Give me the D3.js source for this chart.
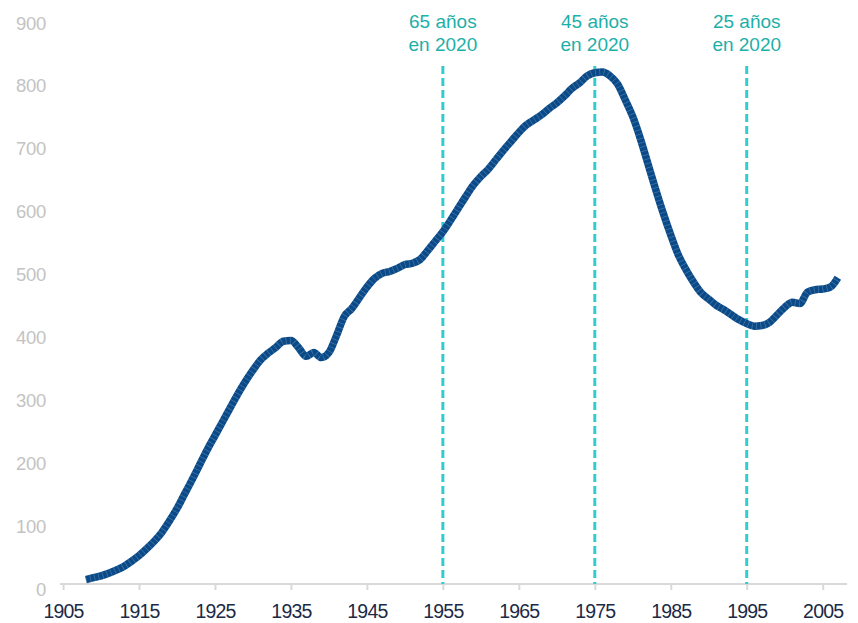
<!DOCTYPE html>
<html><head><meta charset="utf-8">
<script src="https://cdn.jsdelivr.net/npm/d3@7"></script>
<style>html,body{margin:0;padding:0;background:#fff;}svg{display:block;}</style>
</head><body>
<script>
const years = d3.range(1908, 2008);
const values = [7,10,13,17,22,28,36,45,56,68,
82,100,120,143,166,190,214,236,258,280,
302,322,340,356,367,376,386,387,376,362,
368,360,368,395,425,438,455,472,486,494,
497,502,508,510,516,530,545,560,578,597,
616,634,648,660,675,690,704,718,730,738,
746,756,765,776,788,797,808,813,814,808,
795,770,743,708,668,628,590,555,523,500,
480,463,453,443,436,428,420,414,410,411,
416,428,440,448,446,464,468,469,472,487];
const xTicks = [1905,1915,1925,1935,1945,1955,1965,1975,1985,1995,2005];
const yTicks = [0,100,200,300,400,500,600,700,800,900];
const markerYears = [1955,1975,1995];
const markerLabels = [["65 años","en 2020"],["45 años","en 2020"],["25 años","en 2020"]];

const W = 858, H = 623;
const svg = d3.select("body").append("svg").attr("width", W).attr("height", H);
const x = d3.scaleLinear().domain([1904.6, 2008.2]).range([60, 847]);
const y = d3.scaleLinear().domain([0, 900]).range([584, 18]);

// y labels
svg.append("g").selectAll("text").data(yTicks).join("text")
  .attr("x", 46).attr("y", d => y(d) + 11.5)
  .attr("text-anchor", "end")
  .attr("font-family", "Liberation Sans, Arial, sans-serif")
  .attr("font-size", 18.5).attr("fill", "#c3c3c3")
  .attr("letter-spacing", "-0.3")
  .text(d => d);

// x axis
const xAxis = d3.axisBottom(x).tickValues(xTicks).tickSize(6).tickFormat(d3.format("d"));
const gx = svg.append("g").attr("transform", "translate(0,584)").call(xAxis);
gx.select(".domain").attr("stroke", "#d9d9d9").attr("stroke-width", 2).attr("d", "M60,0H847");
gx.selectAll(".tick line").attr("stroke", "#d9d9d9").attr("stroke-width", 2);
gx.selectAll(".tick text").attr("y", 34).attr("dy", null)
  .attr("font-family", "Liberation Sans, Arial, sans-serif")
  .attr("font-size", 19.5).attr("fill", "#1b2a47").attr("letter-spacing", "-0.8");

// dashed markers
svg.append("g").selectAll("line").data(markerYears).join("line")
  .attr("x1", d => x(d)).attr("x2", d => x(d))
  .attr("y1", 66).attr("y2", 584)
  .attr("stroke", "#33cccc").attr("stroke-width", 3)
  .attr("stroke-dasharray", "8,4");

const lab = svg.append("g").selectAll("g").data(markerYears).join("g");
lab.each(function(d, i) {
  const g = d3.select(this);
  markerLabels[i].forEach((t, j) => {
    g.append("text").attr("x", x(d)).attr("y", 27.5 + j * 23.5)
      .attr("text-anchor", "middle")
      .attr("font-family", "Liberation Sans, Arial, sans-serif")
      .attr("font-size", 19).attr("fill", "#1dafa9")
      .text(t);
  });
});

// line
const data = years.map((yr, i) => ({yr, v: values[i]}));
const line = d3.line().x(d => x(d.yr)).y(d => y(d.v)).curve(d3.curveMonotoneX);
svg.append("path").datum(data).attr("d", line)
  .attr("fill", "none").attr("stroke", "#0a4a88").attr("stroke-width", 7.5)
  .attr("stroke-linejoin", "round");
svg.append("path").datum(data).attr("d", line)
  .attr("fill", "none").attr("stroke", "rgba(255,255,255,0.22)").attr("stroke-width", 7.5)
  .attr("stroke-dasharray", "0.8,3.5");
</script>
</body></html>
